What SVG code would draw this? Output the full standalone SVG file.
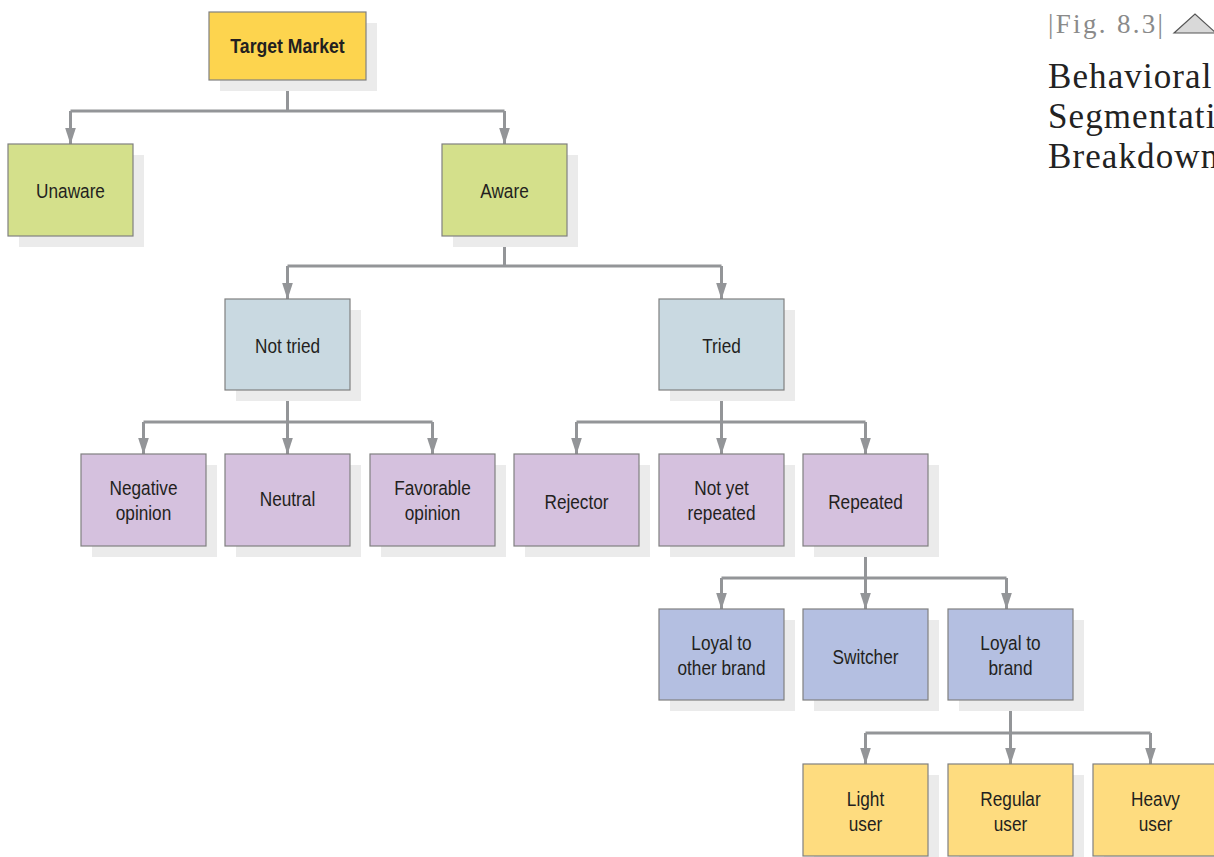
<svg xmlns="http://www.w3.org/2000/svg" width="1214" height="857" viewBox="0 0 1214 857">
<style>
.sh{fill:#ebebeb}
.bx{stroke:#808080;stroke-width:1.2}
.t{font-family:"Liberation Sans Narrow","Liberation Sans",Arial,sans-serif;font-size:20.5px;fill:#231f20;text-anchor:middle}
.tb{font-weight:bold}
.c{fill:none;stroke:#939598;stroke-width:3}
.ar{fill:none;stroke:#939598;stroke-width:3;marker-end:url(#ah)}
.y1{fill:#fdd44e}.g{fill:#d4e08b}.lb{fill:#c9d9e1}.p{fill:#d5c1de}.b{fill:#b4bfe1}.y2{fill:#fedc7f}
.ttl{font-family:"Liberation Serif","Times New Roman",serif;fill:#222}
</style>
<defs>
<marker id="ah" markerUnits="userSpaceOnUse" markerWidth="17" markerHeight="11" viewBox="0 0 17 11" refX="16.5" refY="5.5" orient="auto">
<path d="M0,0 L17,5.5 L0,11 Z" fill="#939598"/>
</marker>
</defs>
<g id="title">
<text class="ttl" x="1048" y="33" font-size="27" style="fill:#8a8a8a" textLength="115" lengthAdjust="spacing">|Fig. 8.3|</text>
<polygon points="1174,33 1195,14 1216,33" fill="#d9d9d9" stroke="#555" stroke-width="1.2"/>
<text class="ttl" x="1048" y="88" font-size="35" letter-spacing="1.1">Behavioral</text>
<text class="ttl" x="1048" y="128" font-size="35" letter-spacing="1.1">Segmentation</text>
<text class="ttl" x="1048" y="168" font-size="35" letter-spacing="1.1">Breakdown</text>
</g>
<g id="connectors">
<path class="c" d="M287.5,80 V111 M70.5,111 H504.5"/>
<path class="ar" d="M70.5,111 V144"/>
<path class="ar" d="M504.5,111 V144"/>
<path class="c" d="M504.5,236 V266 M287.5,266 H721.5"/>
<path class="ar" d="M287.5,266 V299"/>
<path class="ar" d="M721.5,266 V299"/>
<path class="c" d="M287.5,390 V422 M143.5,422 H432.5"/>
<path class="ar" d="M143.5,422 V454"/>
<path class="ar" d="M287.5,422 V454"/>
<path class="ar" d="M432.5,422 V454"/>
<path class="c" d="M721.5,390 V422 M576.5,422 H865.5"/>
<path class="ar" d="M576.5,422 V454"/>
<path class="ar" d="M721.5,422 V454"/>
<path class="ar" d="M865.5,422 V454"/>
<path class="c" d="M865.5,546 V578 M721.5,578 H1006.5"/>
<path class="ar" d="M721.5,578 V609"/>
<path class="ar" d="M865.5,578 V609"/>
<path class="ar" d="M1006.5,578 V609"/>
<path class="c" d="M1010.5,700 V733 M865.5,733 H1150.5"/>
<path class="ar" d="M865.5,733 V764"/>
<path class="ar" d="M1010.5,733 V764"/>
<path class="ar" d="M1150.5,733 V764"/>
</g>
<g id="target-market"><rect class="sh" x="220" y="23" width="157" height="68"/><rect class="bx y1" x="209" y="12" width="157" height="68"/><text class="t tb" transform="translate(287.5,53) scale(0.86,1)">Target Market</text></g>
<g id="unaware"><rect class="sh" x="19" y="155" width="125" height="92"/><rect class="bx g" x="8" y="144" width="125" height="92"/><text class="t" transform="translate(70.5,198) scale(0.84,1)">Unaware</text></g>
<g id="aware"><rect class="sh" x="453" y="155" width="125" height="92"/><rect class="bx g" x="442" y="144" width="125" height="92"/><text class="t" transform="translate(504.5,198) scale(0.84,1)">Aware</text></g>
<g id="not-tried"><rect class="sh" x="236" y="310" width="125" height="91"/><rect class="bx lb" x="225" y="299" width="125" height="91"/><text class="t" transform="translate(287.5,353) scale(0.84,1)">Not tried</text></g>
<g id="tried"><rect class="sh" x="670" y="310" width="125" height="91"/><rect class="bx lb" x="659" y="299" width="125" height="91"/><text class="t" transform="translate(721.5,353) scale(0.84,1)">Tried</text></g>
<g id="negative-opinion"><rect class="sh" x="92" y="465" width="125" height="92"/><rect class="bx p" x="81" y="454" width="125" height="92"/><text class="t" transform="translate(143.5,495) scale(0.84,1)">Negative</text><text class="t" transform="translate(143.5,520) scale(0.84,1)">opinion</text></g>
<g id="neutral"><rect class="sh" x="236" y="465" width="125" height="92"/><rect class="bx p" x="225" y="454" width="125" height="92"/><text class="t" transform="translate(287.5,506) scale(0.84,1)">Neutral</text></g>
<g id="favorable-opinion"><rect class="sh" x="381" y="465" width="125" height="92"/><rect class="bx p" x="370" y="454" width="125" height="92"/><text class="t" transform="translate(432.5,495) scale(0.84,1)">Favorable</text><text class="t" transform="translate(432.5,520) scale(0.84,1)">opinion</text></g>
<g id="rejector"><rect class="sh" x="525" y="465" width="125" height="92"/><rect class="bx p" x="514" y="454" width="125" height="92"/><text class="t" transform="translate(576.5,509) scale(0.84,1)">Rejector</text></g>
<g id="not-yet-repeated"><rect class="sh" x="670" y="465" width="125" height="92"/><rect class="bx p" x="659" y="454" width="125" height="92"/><text class="t" transform="translate(721.5,495) scale(0.84,1)">Not yet</text><text class="t" transform="translate(721.5,520) scale(0.84,1)">repeated</text></g>
<g id="repeated"><rect class="sh" x="814" y="465" width="125" height="92"/><rect class="bx p" x="803" y="454" width="125" height="92"/><text class="t" transform="translate(865.5,509) scale(0.84,1)">Repeated</text></g>
<g id="loyal-other"><rect class="sh" x="670" y="620" width="125" height="91"/><rect class="bx b" x="659" y="609" width="125" height="91"/><text class="t" transform="translate(721.5,650) scale(0.84,1)">Loyal to</text><text class="t" transform="translate(721.5,675) scale(0.84,1)">other brand</text></g>
<g id="switcher"><rect class="sh" x="814" y="620" width="125" height="91"/><rect class="bx b" x="803" y="609" width="125" height="91"/><text class="t" transform="translate(865.5,664) scale(0.84,1)">Switcher</text></g>
<g id="loyal-brand"><rect class="sh" x="959" y="620" width="125" height="91"/><rect class="bx b" x="948" y="609" width="125" height="91"/><text class="t" transform="translate(1010.5,650) scale(0.84,1)">Loyal to</text><text class="t" transform="translate(1010.5,675) scale(0.84,1)">brand</text></g>
<g id="light-user"><rect class="sh" x="814" y="775" width="125" height="92"/><rect class="bx y2" x="803" y="764" width="125" height="92"/><text class="t" transform="translate(865.5,806) scale(0.84,1)">Light</text><text class="t" transform="translate(865.5,831) scale(0.84,1)">user</text></g>
<g id="regular-user"><rect class="sh" x="959" y="775" width="125" height="92"/><rect class="bx y2" x="948" y="764" width="125" height="92"/><text class="t" transform="translate(1010.5,806) scale(0.84,1)">Regular</text><text class="t" transform="translate(1010.5,831) scale(0.84,1)">user</text></g>
<g id="heavy-user"><rect class="sh" x="1104" y="775" width="125" height="92"/><rect class="bx y2" x="1093" y="764" width="125" height="92"/><text class="t" transform="translate(1155.5,806) scale(0.84,1)">Heavy</text><text class="t" transform="translate(1155.5,831) scale(0.84,1)">user</text></g>
</svg>
